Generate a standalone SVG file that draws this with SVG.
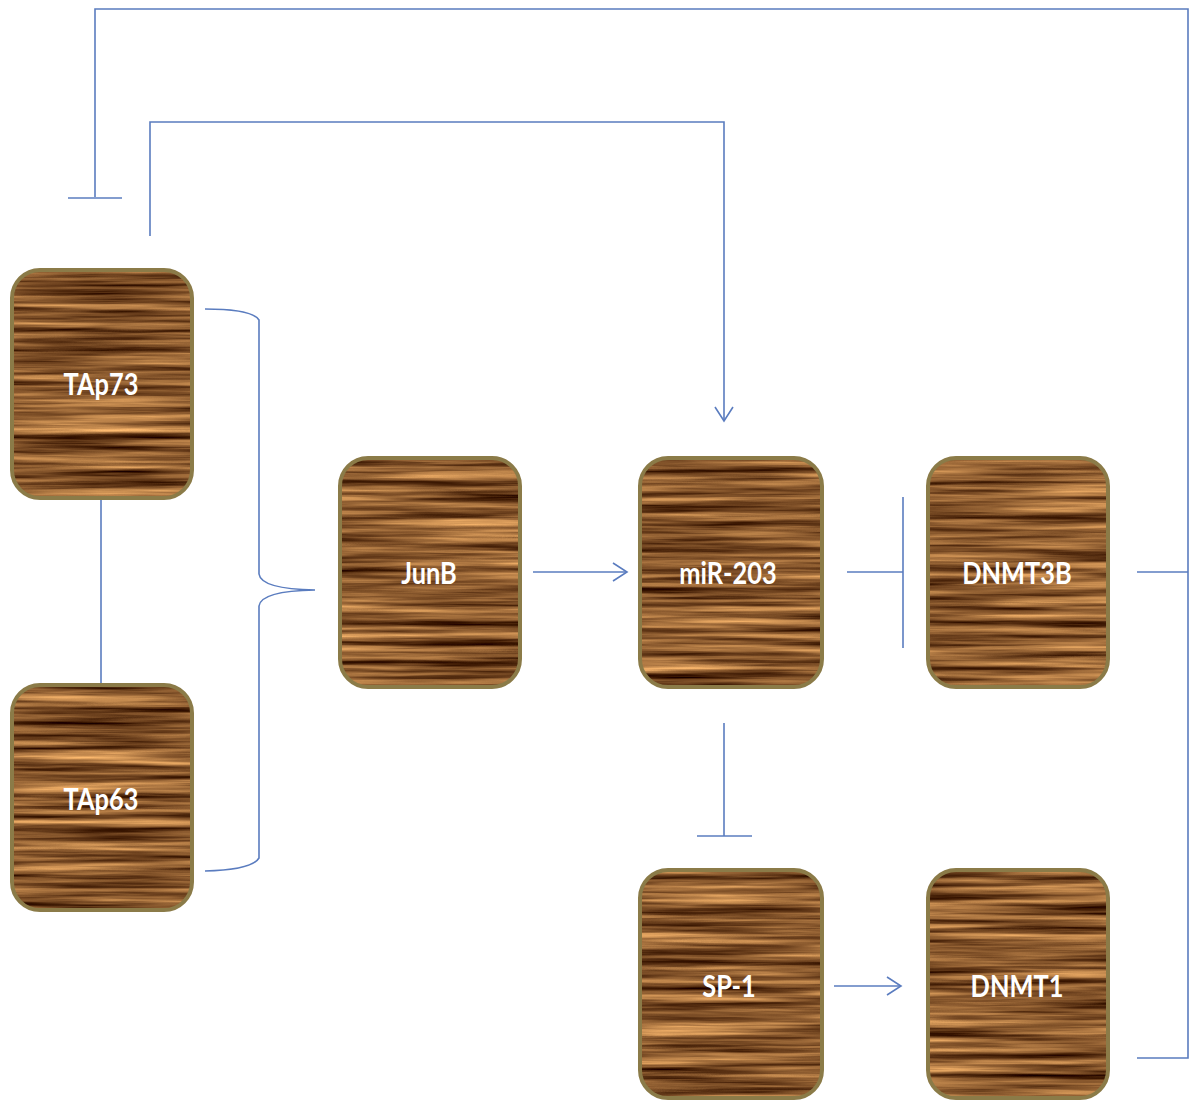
<svg xmlns="http://www.w3.org/2000/svg" width="1193" height="1109" viewBox="0 0 1193 1109">
  <defs>
    <!-- streaky wood grain used to fill every node -->
    <filter id="wood" x="0" y="0" width="1" height="1" color-interpolation-filters="sRGB">
      <feTurbulence type="fractalNoise" baseFrequency="0.005 0.15" numOctaves="4" seed="7" result="noise"/>
      <feColorMatrix in="noise" type="matrix" values="1.2 0 0 0 -0.06  1.0 0 0 0 -0.15  0.67 0 0 0 -0.155  0 0 0 0 1" result="grain"/>
      <feComposite in="grain" in2="SourceGraphic" operator="in"/>
    </filter>
    <marker id="arrow" viewBox="0 0 20 20" refX="18" refY="10" markerWidth="20" markerHeight="20" markerUnits="userSpaceOnUse" orient="auto">
      <path d="M4 1 L18 10 L4 19" fill="none" stroke="#5a7cbf" stroke-width="1.6"/>
    </marker>
    <style>
      .wood { fill: #8a5a2c; filter: url(#wood); }
      .rim { fill: none; stroke: #8b7b48; stroke-width: 4; }
      .label { font-family: Lato, "Open Sans", "Liberation Sans", sans-serif; font-weight: bold; font-size: 31px; fill: #ffffff; text-anchor: middle; dominant-baseline: central; }
      .link { fill: none; stroke: #5a7cbf; stroke-width: 1.6; }
    </style>
  </defs>

  <rect width="1193" height="1109" fill="#ffffff"/>

  <!-- connectors -->
  <g id="connectors">
    <!-- long feedback loop from DNMT3B / DNMT1 back to TAp73 (inhibition) -->
    <path class="link" d="M95 197 V9 H1188 V1058 H1137"/>
    <path class="link" d="M1137 572 H1188"/>
    <path class="link" d="M68 198 H122"/>
    <!-- TAp73 activates miR-203 -->
    <path class="link" d="M150 236 V122 H724 V421" marker-end="url(#arrow)"/>
    <!-- TAp73 – TAp63 -->
    <path class="link" d="M101 498 V685"/>
    <!-- brace joining TAp73 and TAp63 into JunB -->
    <path class="link" d="M205 309 Q252 309 259 320 V574 Q261 589 315 590 Q261 591 259 606 V858 Q252 870 205 871"/>
    <!-- JunB -> miR-203 -->
    <path class="link" d="M533 572 H627" marker-end="url(#arrow)"/>
    <!-- miR-203 -| DNMT3B -->
    <path class="link" d="M847 572 H903"/>
    <path class="link" d="M903 497 V648"/>
    <!-- miR-203 -| SP-1 -->
    <path class="link" d="M724 723 V836"/>
    <path class="link" d="M697 836 H752"/>
    <!-- SP-1 -> DNMT1 -->
    <path class="link" d="M834 986 H901" marker-end="url(#arrow)"/>
  </g>

  <g id="TAp73">
    <rect class="wood" x="12" y="270" width="180" height="228" rx="28"/>
    <rect class="rim" x="12" y="270" width="180" height="228" rx="28"/>
    <text class="label" transform="translate(101 383) scale(0.82 1)">TAp73</text>
  </g>
  <g id="TAp63">
    <rect class="wood" x="12" y="685" width="180" height="225" rx="28"/>
    <rect class="rim" x="12" y="685" width="180" height="225" rx="28"/>
    <text class="label" transform="translate(101 798) scale(0.82 1)">TAp63</text>
  </g>
  <g id="JunB">
    <rect class="wood" x="340" y="458" width="180" height="229" rx="28"/>
    <rect class="rim" x="340" y="458" width="180" height="229" rx="28"/>
    <text class="label" transform="translate(429 572) scale(0.82 1)">JunB</text>
  </g>
  <g id="miR-203">
    <rect class="wood" x="640" y="458" width="182" height="229" rx="28"/>
    <rect class="rim" x="640" y="458" width="182" height="229" rx="28"/>
    <text class="label" transform="translate(728 572) scale(0.82 1)">miR-203</text>
  </g>
  <g id="DNMT3B">
    <rect class="wood" x="928" y="458" width="180" height="229" rx="28"/>
    <rect class="rim" x="928" y="458" width="180" height="229" rx="28"/>
    <text class="label" transform="translate(1017 572) scale(0.82 1)">DNMT3B</text>
  </g>
  <g id="SP-1">
    <rect class="wood" x="640" y="870" width="182" height="228" rx="28"/>
    <rect class="rim" x="640" y="870" width="182" height="228" rx="28"/>
    <text class="label" transform="translate(729 985) scale(0.82 1)">SP-1</text>
  </g>
  <g id="DNMT1">
    <rect class="wood" x="928" y="870" width="180" height="228" rx="28"/>
    <rect class="rim" x="928" y="870" width="180" height="228" rx="28"/>
    <text class="label" transform="translate(1017 985) scale(0.82 1)">DNMT1</text>
  </g>
</svg>
